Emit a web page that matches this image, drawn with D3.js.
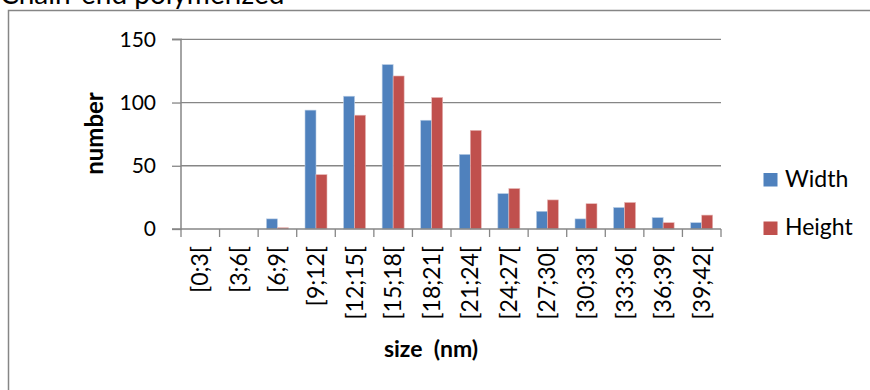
<!DOCTYPE html>
<html>
<head>
<meta charset="utf-8">
<script src="https://cdn.jsdelivr.net/npm/d3@7"></script>
<style>
  html, body { margin: 0; padding: 0; background: #fff; }
  svg { display: block; font-family: Lato, "Open Sans", sans-serif; }
</style>
</head>
<body>
<svg id="chart" width="870" height="390"></svg>
<script>
const categories = ["[0;3[", "[3;6[", "[6;9[", "[9;12[", "[12;15[", "[15;18[", "[18;21[", "[21;24[", "[24;27[", "[27;30[", "[30;33[", "[33;36[", "[36;39[", "[39;42["];
const widthValues  = [0, 0, 8, 94, 105, 130, 86, 59, 28, 14, 8, 17, 9, 5];
const heightValues = [0, 0, 1, 43, 90, 121, 104, 78, 32, 23, 20, 21, 5, 11];
const seriesNames = ["Width", "Height"];
const seriesColors = ["#4F81BD", "#C0504D"];
const seriesStroke = ["#B9CDE5", "#E6B9B8"];
const yTicks = [0, 50, 100, 150];
const titleText = "Chain-end polymerized";
const xTitle = "size  (nm)";
const yTitle = "number";

const svg = d3.select("#chart");
const plot = { left: 181, right: 721, top: 39.3, bottom: 229 };
const grey = "#868686";

// outer frame (extends beyond window at right/bottom)
svg.append("path")
  .attr("d", `M8.5,400 V10.5 H880`)
  .attr("fill", "none").attr("stroke", grey).attr("stroke-width", 1.5);

// title (cut off at the top, as in the reference)
svg.append("text").attr("x", 0).attr("y", 4)
  .attr("font-size", 28).attr("fill", "#000").text(titleText);

const x = d3.scaleBand().domain(categories).range([plot.left, plot.right]).padding(0);
const bw = x.bandwidth();
const gap = bw * 0.215;
const x1 = d3.scaleBand().domain(seriesNames).range([gap, bw - gap]).padding(0);
const y = d3.scaleLinear().domain([0, 150]).range([plot.bottom, plot.top]);

// gridlines
svg.append("g").selectAll("line").data(yTicks.filter(d => d > 0)).join("line")
  .attr("x1", plot.left).attr("x2", plot.right)
  .attr("y1", d => y(d)).attr("y2", d => y(d))
  .attr("stroke", grey).attr("stroke-width", 1.3);

// bars
const rows = categories.map((c, i) => ({ cat: c, vals: [widthValues[i], heightValues[i]] }));
const groups = svg.append("g").selectAll("g").data(rows).join("g")
  .attr("transform", d => `translate(${x(d.cat)},0)`);
groups.selectAll("rect").data(d => d.vals.map((v, k) => ({ v, k })).filter(e => e.v > 0)).join("rect")
  .attr("x", e => x1(seriesNames[e.k]))
  .attr("width", x1.bandwidth())
  .attr("y", e => y(e.v))
  .attr("height", e => y(0) - y(e.v))
  .attr("fill", e => seriesColors[e.k])
  .attr("stroke", e => seriesStroke[e.k])
  .attr("stroke-width", 0.6);

// y axis
const yAxis = d3.axisLeft(y).tickValues(yTicks).tickSize(9).tickPadding(16).tickFormat(d3.format("d"));
const yg = svg.append("g").attr("transform", `translate(${plot.left},0)`).call(yAxis);
yg.select(".domain").attr("stroke", grey).attr("stroke-width", 1.5).attr("d", `M-9,${plot.top}H0V${plot.bottom}H-9`);
yg.selectAll(".tick line").attr("stroke", grey).attr("stroke-width", 1.3);
yg.selectAll(".tick text").attr("font-size", 21).attr("fill", "#000").attr("font-family", "Lato, sans-serif");

// x axis baseline + boundary ticks
svg.append("line").attr("x1", plot.left).attr("x2", plot.right)
  .attr("y1", plot.bottom).attr("y2", plot.bottom)
  .attr("stroke", grey).attr("stroke-width", 1.5);
const boundaries = categories.map(c => x(c)).concat([x(categories[categories.length - 1]) + bw]);
svg.append("g").selectAll("line").data(boundaries).join("line")
  .attr("x1", d => d).attr("x2", d => d)
  .attr("y1", plot.bottom).attr("y2", plot.bottom + 8)
  .attr("stroke", grey).attr("stroke-width", 1.3);

// x tick labels (rotated)
svg.append("g").selectAll("text").data(categories).join("text")
  .attr("transform", d => `translate(${x(d) + bw / 2 + 8},246) rotate(-90)`)
  .attr("text-anchor", "end")
  .attr("font-size", 23).attr("fill", "#000")
  .text(d => d);

// axis titles
svg.append("text").attr("x", 431).attr("y", 357).attr("text-anchor", "middle")
  .attr("font-size", 23).attr("font-weight", "bold").attr("fill", "#000")
  .attr("xml:space", "preserve").style("white-space", "pre")
  .text(xTitle);
svg.append("text").attr("transform", "translate(103,133.5) rotate(-90)")
  .attr("text-anchor", "middle")
  .attr("font-size", 24).attr("font-weight", "bold").attr("fill", "#000")
  .text(yTitle);

// legend
const legend = svg.append("g").selectAll("g").data(seriesNames).join("g")
  .attr("transform", (d, i) => `translate(763.5,${173 + i * 48.5})`);
legend.append("rect").attr("width", 14).attr("height", 13.5)
  .attr("fill", (d, i) => seriesColors[i]);
legend.append("text").attr("x", 21.5).attr("y", 13.5)
  .attr("font-size", 23).attr("fill", "#000").text(d => d);
</script>
</body>
</html>
